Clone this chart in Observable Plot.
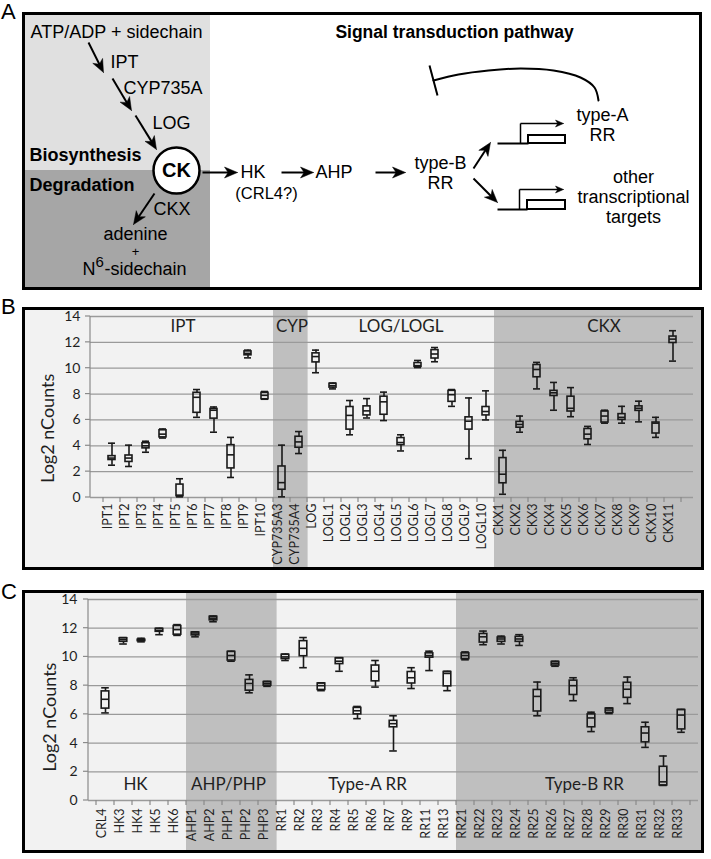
<!DOCTYPE html>
<html><head><meta charset="utf-8">
<script src="https://cdn.jsdelivr.net/npm/d3@7"></script>
<script src="https://cdn.jsdelivr.net/npm/@observablehq/plot@0.6"></script>
<style>
body{margin:0;background:#fff;}
#fig{position:relative;width:711px;height:859px;overflow:hidden;font-family:"Liberation Sans",Arial,sans-serif;}
.panel{position:absolute;border:3px solid #000;line-height:0;}
.plabel{position:absolute;font-size:22px;line-height:1;color:#000;}
</style></head><body><div id="fig"></div>
<script>
// ---------------- Panel B data ----------------
const bGenes = ["IPT1","IPT2","IPT3","IPT4","IPT5","IPT6","IPT7","IPT8","IPT9","IPT10",
  "CYP735A3","CYP735A4","LOG","LOGL1","LOGL2","LOGL3","LOGL4","LOGL5","LOGL6","LOGL7","LOGL8","LOGL9","LOGL10",
  "CKX1","CKX2","CKX3","CKX4","CKX5","CKX6","CKX7","CKX8","CKX9","CKX10","CKX11"];
const bMin = [2.5,2.4,3.5,4.6,0.05,6.2,5.05,1.55,10.8,7.6, 0.05,3.4, 9.65,8.4,4.85,6.15,5.95,3.6,10.05,10.5,7.05,3.0,6.0, 0.25,5.05,8.4,6.75,6.25,4.1,5.75,5.75,5.85,4.65,10.55];
const bQ1  = [2.9,2.75,3.8,4.65,0.1,6.55,6.1,2.25,11.0,7.6, 0.6,3.85, 10.45,8.5,5.25,6.35,6.4,4.05,10.1,10.75,7.4,5.25,6.35, 1.1,5.4,9.3,7.85,6.65,4.5,5.8,6.0,6.7,4.95,11.95];
const bMed = [3.05,3.05,4.0,4.9,0.18,7.75,6.75,3.3,11.15,7.9, 1.15,4.3, 10.9,8.65,6.35,6.7,7.4,4.25,10.2,11.1,7.95,5.9,6.65, 1.8,5.65,9.9,8.1,6.9,4.9,6.3,6.2,6.9,5.75,12.25];
const bQ3  = [3.2,3.25,4.2,5.2,1.0,8.1,6.85,4.05,11.3,8.1, 2.4,4.7, 11.15,8.8,7.0,7.05,7.8,4.6,10.4,11.4,8.25,6.2,7.0, 3.05,5.85,10.25,8.25,7.8,5.3,6.65,6.45,7.05,5.8,12.45];
const bMax = [4.2,4.05,4.35,5.3,1.45,8.35,7.0,4.65,11.4,8.2, 4.05,5.1, 11.4,8.85,7.5,7.65,8.15,4.85,10.6,11.6,8.35,7.7,8.25, 3.65,6.3,10.45,8.9,8.5,5.5,6.75,7.05,7.45,6.2,12.9];
const bShaded = ["CYP735A3","CYP735A4","CKX1","CKX2","CKX3","CKX4","CKX5","CKX6","CKX7","CKX8","CKX9","CKX10","CKX11"];
const bGroupText = ["IPT","CYP","LOG/LOGL","CKX"];
const bGroupAt = ["IPT5","CYP735A4","LOGL5","CKX7"];

// ---------------- Panel C data ----------------
const cGenes = ["CRL4","HK3","HK4","HK5","HK6","AHP1","AHP2","PHP1","PHP2","PHP3",
  "RR1","RR2","RR3","RR4","RR5","RR6","RR7","RR9","RR11","RR13",
  "RR21","RR22","RR23","RR24","RR25","RR26","RR27","RR28","RR29","RR30","RR31","RR32","RR33"];
const cMin = [6.1,10.9,11.05,11.55,11.5, 11.4,12.45,9.7,7.5,7.95, 9.75,9.25,7.65,9.0,5.7,7.9,3.45,7.8,9.05,7.65, 9.8,10.85,10.9,10.8,5.9,9.35,6.95,4.8,6.05,6.75,3.7,1.05,4.75];
const cQ1  = [6.4,11.05,11.1,11.75,11.55, 11.5,12.55,9.75,7.65,8.0, 9.85,10.05,7.7,9.5,6.0,8.3,5.1,8.15,9.95,7.95, 9.85,11.0,11.05,11.05,6.2,9.4,7.35,5.1,6.1,7.15,4.05,1.05,4.95];
const cMed = [7.05,11.2,11.15,11.85,11.9, 11.6,12.7,10.1,8.15,8.15, 10.0,10.6,8.0,9.7,6.25,9.0,5.35,8.55,10.1,8.85, 10.1,11.4,11.25,11.25,7.25,9.55,8.0,5.75,6.3,7.75,4.7,1.3,5.95];
const cQ3  = [7.6,11.3,11.2,11.95,12.15, 11.7,12.8,10.35,8.4,8.25, 10.15,11.1,8.15,9.9,6.45,9.4,5.55,8.95,10.25,8.95, 10.25,11.6,11.35,11.4,7.7,9.65,8.35,6.0,6.4,8.2,5.1,2.35,6.3];
const cMax = [7.85,11.35,11.3,12.0,12.25, 11.75,12.85,10.4,8.75,8.3, 10.2,11.35,8.2,9.95,6.55,9.75,5.9,9.25,10.4,9.0, 10.35,11.8,11.45,11.55,8.25,9.7,8.55,6.15,6.45,8.6,5.45,3.1,6.35];
const cShaded = ["AHP1","AHP2","PHP1","PHP2","PHP3","RR21","RR22","RR23","RR24","RR25","RR26","RR27","RR28","RR29","RR30","RR31","RR32","RR33"];
const cGroupText = ["HK","AHP/PHP","Type-A RR","Type-B RR"];
const cGroupAt = ["HK4","PHP1","RR5","RR27"];

const yTicks = [0,2,4,6,8,10,12,14];
const yTitle = "Log2 nCounts";

// ---------------- Panel A diagram data ----------------
const aRegions = [
  {x1:25,x2:210,y1:15,y2:170,fill:"#e0e0e0"},
  {x1:25,x2:210,y1:170,y2:287,fill:"#a6a6a6"}
];
const aTextMid = [
  {t:"ATP/ADP + sidechain",x:116,y:32},
  {t:"adenine",x:135,y:234},
  {t:"type-B",x:440,y:163},{t:"RR",x:440,y:183},
  {t:"type-A",x:602,y:115},{t:"RR",x:602,y:135},
  {t:"other",x:633,y:177},{t:"transcriptional",x:633,y:197},{t:"targets",x:633,y:217}
];
const aTextStart = [
  {t:"IPT",x:110,y:62},{t:"CYP735A",x:123,y:88},{t:"LOG",x:152,y:123},
  {t:"CKX",x:153,y:209},{t:"HK",x:240,y:172},{t:"AHP",x:315,y:172},
  {t:"N",x:82,y:269},{t:"-sidechain",x:104,y:269}
];
const aTextSmall = [{t:"(CRL4?)",x:266,y:193}];
const aPlus = [{t:"+",x:135,y:251}];
const aSup = [{t:"6",x:95,y:262}];
const aBold = [{t:"Biosynthesis",x:29,y:155},{t:"Degradation",x:29,y:185}];
const aTitle = [{t:"Signal transduction pathway",x:454,y:32}];
const aNode = [{t:"CK",x:176,y:170}];
const aArrows = [
  {x1:88,y1:42,x2:103,y2:72},{x1:112,y1:78,x2:131,y2:110},{x1:135,y1:115,x2:156,y2:149},
  {x1:154,y1:193,x2:133,y2:224},
  {x1:202,y1:172,x2:237,y2:172},{x1:281,y1:172,x2:313,y2:172},{x1:375,y1:172,x2:405,y2:172},
  {x1:473,y1:168,x2:490,y2:142},{x1:473,y1:178,x2:497,y2:202}
];
const aGenesDraw = [
  {x0:497,xBox:528,x1:565,yTop:135,yBot:143,xProm:520,yProm:123},
  {x0:497,xBox:527,x1:565,yTop:200,yBot:209,xProm:519,yProm:189}
];
const aArc = [
  {x:598,y:100},{x:594,y:87},{x:580,y:77},{x:553,y:70},{x:520,y:68},{x:488,y:70},{x:458,y:74},{x:433,y:80}
];
const aBar = [{x1:429,y1:65,x2:437,y2:95}];

// ---------------- helpers ----------------
function headPoly(a, id, L, W) {
  const dx = a.x2 - a.x1, dy = a.y2 - a.y1, len = Math.hypot(dx, dy);
  const ux = dx/len, uy = dy/len, nx = -uy, ny = ux;
  const bx = a.x2 - L*ux, by = a.y2 - L*uy;
  const mx = a.x2 - 0.72*L*ux, my = a.y2 - 0.72*L*uy;
  return [
    {id, x:a.x2, y:a.y2},
    {id, x:bx + nx*W/2, y:by + ny*W/2},
    {id, x:mx, y:my},
    {id, x:bx - nx*W/2, y:by - ny*W/2},
    {id, x:a.x2, y:a.y2}
  ];
}
function shaft(a, L) {
  const dx = a.x2 - a.x1, dy = a.y2 - a.y1, len = Math.hypot(dx, dy);
  return {x1:a.x1, y1:a.y1, x2:a.x2 - 0.6*L*dx/len, y2:a.y2 - 0.6*L*dy/len};
}

function buildA() {
  const L = 13, W = 11, Ls = 8, Ws = 7;
  const heads = aArrows.flatMap((a,i) => headPoly(a, "a"+i, L, W));
  const shafts = aArrows.map(a => shaft(a, L));
  const promArrows = aGenesDraw.map(g => ({x1:g.xProm, y1:g.yProm, x2:g.x1 - 2, y2:g.yProm}));
  const promHeads = promArrows.flatMap((a,i) => headPoly(a, "p"+i, Ls, Ws));
  const promStems = aGenesDraw.map(g => ({x1:g.xProm, y1:g.yBot, x2:g.xProm, y2:g.yProm}));
  const promShafts = promArrows.map(a => shaft(a, Ls));
  const geneLines = aGenesDraw.map(g => ({x1:g.x0, y1:g.yBot, x2:g.xBox, y2:g.yBot}));
  const font = "Liberation Sans, Arial, sans-serif";
  return Plot.plot({
    width: 674, height: 272, margin: 0,
    style: {background: "#fff", fontFamily: font, overflow: "visible"},
    x: {domain: [25, 699], range: [0, 674], axis: null},
    y: {domain: [15, 287], range: [0, 272], axis: null},
    color: {type: "identity"},
    marks: [
      Plot.rect(aRegions, {x1:"x1", x2:"x2", y1:"y1", y2:"y2", fill:"fill"}),
      Plot.link(shafts, {x1:"x1", y1:"y1", x2:"x2", y2:"y2", stroke:"#000", strokeWidth:2}),
      Plot.line(heads, {x:"x", y:"y", z:"id", fill:"#000", stroke:"#000", strokeWidth:0.5, curve:"linear"}),
      Plot.link(geneLines, {x1:"x1", y1:"y1", x2:"x2", y2:"y2", stroke:"#000", strokeWidth:2}),
      Plot.rect(aGenesDraw, {x1:"xBox", x2:"x1", y1:"yTop", y2:"yBot", fill:"#fff", stroke:"#000", strokeWidth:2}),
      Plot.link(promStems, {x1:"x1", y1:"y1", x2:"x2", y2:"y2", stroke:"#000", strokeWidth:1.5}),
      Plot.link(promShafts, {x1:"x1", y1:"y1", x2:"x2", y2:"y2", stroke:"#000", strokeWidth:1.5}),
      Plot.line(promHeads, {x:"x", y:"y", z:"id", fill:"#000", stroke:"#000", strokeWidth:0.5}),
      Plot.line(aArc, {x:"x", y:"y", curve:"catmull-rom", stroke:"#000", strokeWidth:2}),
      Plot.link(aBar, {x1:"x1", y1:"y1", x2:"x2", y2:"y2", stroke:"#000", strokeWidth:2}),
      Plot.dot(aNode, {x:"x", y:"y", r:23, fill:"#fff", stroke:"#000", strokeWidth:2.5}),
      Plot.text(aNode, {x:"x", y:"y", text:"t", fontSize:20, fontWeight:"bold", fill:"#000"}),
      Plot.text(aTextMid, {x:"x", y:"y", text:"t", fontSize:18, fill:"#000"}),
      Plot.text(aTextStart, {x:"x", y:"y", text:"t", fontSize:18, textAnchor:"start", fill:"#000"}),
      Plot.text(aTextSmall, {x:"x", y:"y", text:"t", fontSize:16.5, fill:"#000"}),
      Plot.text(aPlus, {x:"x", y:"y", text:"t", fontSize:13, fill:"#000"}),
      Plot.text(aSup, {x:"x", y:"y", text:"t", fontSize:15, textAnchor:"start", fill:"#000"}),
      Plot.text(aBold, {x:"x", y:"y", text:"t", fontSize:18, fontWeight:"bold", textAnchor:"start", fill:"#000"}),
      Plot.text(aTitle, {x:"x", y:"y", text:"t", fontSize:17.5, fontWeight:"bold", fill:"#000"})
    ]
  });
}

function boxChart(cfg) {
  const {genes, mins, q1s, meds, q3s, maxs, shaded, gText, gAt, gShift, gY,
         ml, mr, mt, mb, tickPad, yTickDx, yLabDx, yLabY, inset} = cfg;
  const rows = genes.map((g,i) => ({gene:g, min:mins[i], q1:q1s[i], med:meds[i], q3:q3s[i], max:maxs[i]}));
  const last = genes[genes.length - 1];
  const shade = (index, scales, values, dims) => {
    const x = scales.x, bw = x(genes[1]) - x(genes[0]);
    const g = d3.create("svg:g").attr("fill", "#bfbfbf");
    for (const s of shaded) {
      const x0 = x(s);
      const w = s === last ? dims.width - x0 : bw + 0.6;
      g.append("rect").attr("x", x0).attr("y", 0).attr("width", w).attr("height", dims.height);
    }
    return g.node();
  };
  const axes = (index, scales, values, dims) => {
    const x = scales.x, y = scales.y, bw = x(genes[1]) - x(genes[0]);
    const g = d3.create("svg:g").attr("stroke", "#8a8a8a").attr("stroke-width", 1.2).attr("fill", "none");
    const xl = dims.marginLeft, y0 = y(0);
    g.append("line").attr("x1", xl).attr("x2", xl).attr("y1", y0).attr("y2", y(yTicks[yTicks.length-1]));
    for (const t of yTicks) g.append("line").attr("x1", xl - 5).attr("x2", xl).attr("y1", y(t)).attr("y2", y(t));
    const edges = genes.map(gn => x(gn)).concat([x(last) + bw]);
    for (const e of edges) g.append("line").attr("x1", e).attr("x2", e).attr("y1", y0).attr("y2", y0 + 5);
    return g.node();
  };
  const ink = "#1a1a1a", sw = 1.6, txt = "#1f1f1f";
  const groupMarks = gText.map((t,i) => Plot.text([{t, at:gAt[i]}], {x:"at", y:() => gY, text:"t", dx:gShift[i], fontSize:17, fill:txt}));
  return Plot.plot({
    width: 676, height: 257, marginLeft: ml, marginRight: mr, marginTop: mt, marginBottom: mb,
    style: {background: "#f2f2f2", fontFamily: "Lato, 'Open Sans', sans-serif", overflow: "visible"},
    x: {type: "band", domain: genes, padding: 0, axis: null},
    y: {domain: [0, 14], axis: null},
    marks: [
      shade,
      Plot.ruleY(yTicks, {stroke: "#9a9a9a", strokeWidth: 1.3}),
      axes,
      ...groupMarks,
      Plot.text(genes, {x: d => d, text: d => d, frameAnchor: "bottom", rotate: -90, textAnchor: "end", dy: tickPad, fontSize: 12.5, fill: txt}),
      Plot.text(yTicks, {y: d => d, text: d => `${d}`, frameAnchor: "left", textAnchor: "end", dx: yTickDx, fontSize: 14, fill: txt}),
      Plot.text([yTitle], {y: () => yLabY, text: d => d, frameAnchor: "left", textAnchor: "middle", rotate: -90, dx: yLabDx, fontSize: 18, fill: txt}),
      Plot.ruleX(rows, {x: "gene", y1: "min", y2: "q1", stroke: ink, strokeWidth: sw}),
      Plot.ruleX(rows, {x: "gene", y1: "q3", y2: "max", stroke: ink, strokeWidth: sw}),
      Plot.tickY(rows, {x: "gene", y: "min", stroke: ink, strokeWidth: sw, insetLeft: inset, insetRight: inset}),
      Plot.tickY(rows, {x: "gene", y: "max", stroke: ink, strokeWidth: sw, insetLeft: inset, insetRight: inset}),
      Plot.barY(rows, {x: "gene", y1: "q1", y2: "q3", fill: "none", stroke: ink, strokeWidth: sw, insetLeft: inset, insetRight: inset}),
      Plot.tickY(rows, {x: "gene", y: "med", stroke: ink, strokeWidth: sw, insetLeft: inset, insetRight: inset})
    ]
  });
}

const fig = document.getElementById("fig");
function addPanel(node, left, top, w, h) {
  const d = document.createElement("div");
  d.className = "panel";
  d.style.left = left + "px"; d.style.top = top + "px";
  d.style.width = w + "px"; d.style.height = h + "px";
  d.appendChild(node);
  fig.appendChild(d);
}
function addLabel(t, left, top) {
  const s = document.createElement("div");
  s.className = "plabel"; s.textContent = t;
  s.style.left = left + "px"; s.style.top = top + "px";
  fig.appendChild(s);
}

addPanel(buildA(), 22, 12, 674, 272);
addPanel(boxChart({genes:bGenes, mins:bMin, q1s:bQ1, meds:bMed, q3s:bQ3, maxs:bMax, shaded:bShaded,
  gText:bGroupText, gAt:bGroupAt, gShift:[3,-7,0,-1], gY:13.25,
  ml:65, mr:8, mt:6, mb:70, tickPad:6, yTickDx:-10, yLabDx:-42, yLabY:5.35, inset:5}), 22, 307, 676, 257);
addPanel(boxChart({genes:cGenes, mins:cMin, q1s:cQ1, meds:cMed, q3s:cQ3, maxs:cMax, shaded:cShaded,
  gText:cGroupText, gAt:cGroupAt, gShift:[-6,-3,10,11], gY:1.1,
  ml:63, mr:3, mt:6, mb:50, tickPad:8, yTickDx:-11, yLabDx:-38, yLabY:5.8, inset:5.2}), 22, 590, 676, 257);
addLabel("A", 1, 1);
addLabel("B", 1, 296);
addLabel("C", 1, 581);
</script></body></html>
